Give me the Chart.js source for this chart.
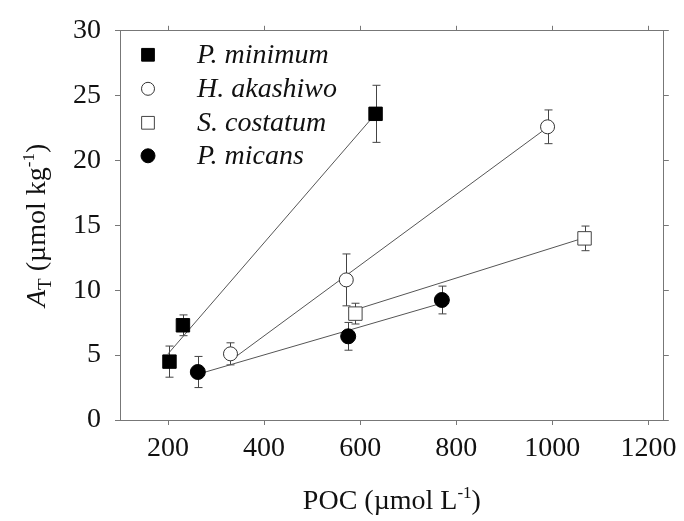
<!DOCTYPE html>
<html lang="en">
<head>
<title>AT vs POC</title>
<script src="https://cdn.jsdelivr.net/npm/chart.js@4.4.1/dist/chart.umd.min.js"></script>
<style>
  body { margin: 0; background: #fff; }
  #wrap { width: 684px; height: 521px; }
</style>
<script>
// data
var species = ["P. minimum", "H. akashiwo", "S. costatum", "P. micans"];

var pmX = [203, 231, 632],  pmY = [4.5, 7.3, 23.6],  pmErr = [1.2, 0.8, 2.2];
var haX = [330, 571, 990],  haY = [5.1, 10.8, 22.6], haErr = [0.85, 2.0, 1.3];
var scX = [590, 1067],      scY = [8.2, 14.0],       scErr = [0.8, 0.95];
var pcX = [262, 575, 770],  pcY = [3.7, 6.45, 9.25], pcErr = [1.2, 1.07, 1.07];

// fitted lines (end points)
var pmLineX = [200, 632],  pmLineY = [5.1, 23.6];
var haLineX = [333, 990],  haLineY = [4.66, 22.56];
var scLineX = [590, 1067], scLineY = [8.5, 14.05];
var pcLineX = [263, 772],  pcLineY = [3.54, 9.03];

var xTicks = [200, 400, 600, 800, 1000, 1200];
var yTicks = [0, 5, 10, 15, 20, 25, 30];

var SERIF = "'Liberation Serif', 'Times New Roman', serif";

function pts(xs, ys) {
    var out = [];
    for (var i = 0; i < xs.length; i++) { out.push({x: xs[i], y: ys[i]}); }
    return out;
}

var marks = [
    {style: 'rect',   radius: 9.5, fill: '#000', stroke: '#000'},
    {style: 'circle', radius: 7,   fill: '#fff', stroke: '#333'},
    {style: 'rect',   radius: 9.5, fill: '#fff', stroke: '#444'},
    {style: 'circle', radius: 7.5, fill: '#000', stroke: '#000'}
];

function pointSet(i, xs, ys, errs) {
    return {
        type: 'scatter', label: species[i], data: pts(xs, ys), errs: errs,
        pointStyle: marks[i].style, pointRadius: marks[i].radius,
        backgroundColor: marks[i].fill, borderColor: marks[i].stroke,
        borderWidth: 1, showLine: false, order: 1
    };
}

function lineSet(xs, ys) {
    return {
        type: 'line', data: pts(xs, ys), borderColor: '#555', borderWidth: 1,
        pointRadius: 0, fill: false, order: 2
    };
}

// draw a run of text pieces (for subscripts / superscripts)
function richText(ctx, runs, x, y, angle) {
    ctx.save();
    ctx.translate(x, y);
    ctx.rotate(angle);
    ctx.textBaseline = 'alphabetic';
    var total = 0;
    runs.forEach(function(r) { ctx.font = r.font; total += ctx.measureText(r.t).width; });
    var cx = -total / 2;
    runs.forEach(function(r) {
        ctx.font = r.font;
        ctx.fillText(r.t, cx, r.dy || 0);
        cx += ctx.measureText(r.t).width;
    });
    ctx.restore();
}

var errorBars = {
    id: 'errorBars',
    beforeDatasetsDraw: function(chart) {
        var ctx = chart.ctx, xs = chart.scales.x, ys = chart.scales.y;
        ctx.save();
        ctx.strokeStyle = '#444';
        ctx.lineWidth = 1;
        chart.data.datasets.forEach(function(ds) {
            if (!ds.errs) return;
            ds.data.forEach(function(p, i) {
                var px = Math.round(xs.getPixelForValue(p.x)) + 0.5;
                var top = ys.getPixelForValue(p.y + ds.errs[i]);
                var bot = ys.getPixelForValue(p.y - ds.errs[i]);
                ctx.beginPath();
                ctx.moveTo(px, top); ctx.lineTo(px, bot);
                ctx.moveTo(px - 4, top); ctx.lineTo(px + 4, top);
                ctx.moveTo(px - 4, bot); ctx.lineTo(px + 4, bot);
                ctx.stroke();
            });
        });
        ctx.restore();
    },
    afterDraw: function(chart) {
        var ctx = chart.ctx, a = chart.chartArea;
        ctx.save();

        // legend
        var rows = [24, 58, 92, 125];
        for (var i = 0; i < species.length; i++) {
            ctx.fillStyle = marks[i].fill;
            ctx.strokeStyle = marks[i].stroke;
            ctx.lineWidth = 1;
            Chart.helpers.drawPoint(ctx, {pointStyle: marks[i].style, radius: marks[i].radius - 0.5,
                rotation: 0, borderWidth: 1}, a.left + 28, a.top + rows[i]);
            ctx.fillStyle = '#111';
            ctx.font = 'italic 28px ' + SERIF;
            ctx.textBaseline = 'middle';
            ctx.fillText(species[i], a.left + 77, a.top + rows[i] + 1);
        }

        // axis titles
        ctx.fillStyle = '#111';
        var big = '28px ' + SERIF, small = '17px ' + SERIF;
        richText(ctx, [
            {t: 'POC (\u00b5mol L', font: big},
            {t: '-1', font: small, dy: -11},
            {t: ')', font: big}
        ], (a.left + a.right) / 2, 509, 0);

        richText(ctx, [
            {t: 'A', font: 'italic 28px ' + SERIF},
            {t: 'T', font: '19px ' + SERIF, dy: 6},
            {t: ' (\u00b5mol kg', font: big},
            {t: '-1', font: small, dy: -11},
            {t: ')', font: big}
        ], 45, (a.top + a.bottom) / 2, -Math.PI / 2);
        ctx.restore();
    }
};

function setTicks(list) {
    return function(scale) { scale.ticks = list.map(function(v) { return {value: v}; }); };
}

function plain(v) { return String(v); }

function go() {
    var grid = {drawOnChartArea: false, color: '#777', tickLength: 5, lineWidth: 1};
    var border = {color: '#777', width: 1};
    var tickFont = {family: SERIF, size: 28};

    new Chart(document.getElementById('myChart'), {
        type: 'scatter',
        data: {
            datasets: [
                lineSet(pmLineX, pmLineY), lineSet(haLineX, haLineY),
                lineSet(scLineX, scLineY), lineSet(pcLineX, pcLineY),
                pointSet(0, pmX, pmY, pmErr), pointSet(1, haX, haY, haErr),
                pointSet(2, scX, scY, scErr), pointSet(3, pcX, pcY, pcErr)
            ]
        },
        options: {
            responsive: false,
            animation: false,
            layout: {padding: 0},
            plugins: {legend: {display: false}, tooltip: {enabled: false}},
            scales: {
                x: {
                    type: 'linear', position: 'bottom', min: 100, max: 1232,
                    afterBuildTicks: setTicks(xTicks),
                    afterFit: function(s) { s.height = 101; },
                    grid: grid, border: border,
                    ticks: {font: tickFont, color: '#111', padding: 7, maxRotation: 0, callback: plain}
                },
                x2: {
                    type: 'linear', position: 'top', min: 100, max: 1232,
                    afterBuildTicks: setTicks(xTicks),
                    afterFit: function(s) { s.height = 21; },
                    grid: grid, border: border, ticks: {display: false}
                },
                y: {
                    type: 'linear', position: 'left', min: 0, max: 30,
                    afterBuildTicks: setTicks(yTicks),
                    afterFit: function(s) { s.width = 120; },
                    grid: grid, border: border,
                    ticks: {font: tickFont, color: '#111', padding: 14, callback: plain}
                },
                y2: {
                    type: 'linear', position: 'right', min: 0, max: 30,
                    afterBuildTicks: setTicks(yTicks),
                    afterFit: function(s) { s.width = 16; },
                    grid: grid, border: border, ticks: {display: false}
                }
            }
        },
        plugins: [errorBars]
    });
}
</script>
</head>
<body onload="go();">
<div id="wrap"><canvas id="myChart" width="684" height="521"></canvas></div>
</body>
</html>
